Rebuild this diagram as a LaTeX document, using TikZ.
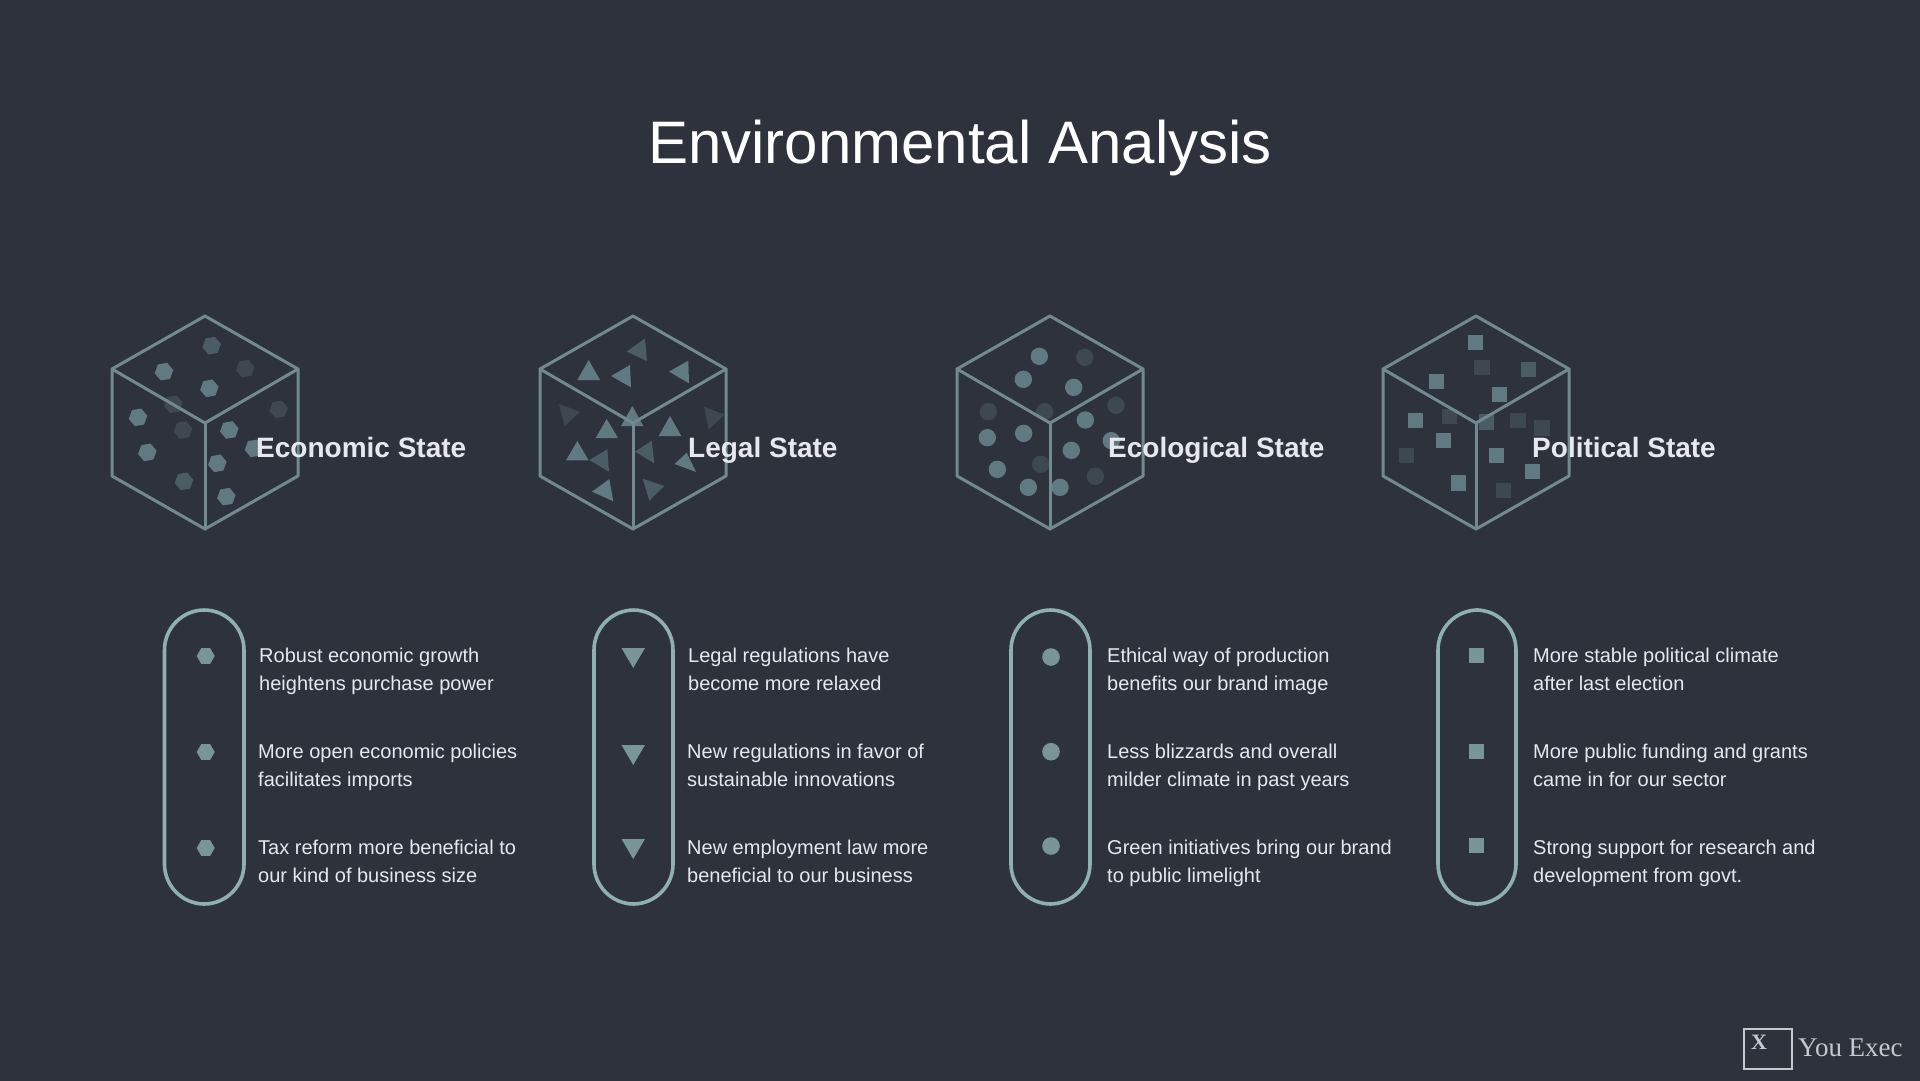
\documentclass[tikz,border=0pt]{standalone}
\usepackage{fontspec}
\setmainfont{Liberation Sans}
\newfontfamily\serifface{Liberation Serif}
\definecolor{bgc}{HTML}{2E323C}
\definecolor{edgec}{HTML}{718A8F}
\definecolor{pillc}{HTML}{8FB0B3}
\definecolor{bulletc}{HTML}{78959A}
\definecolor{brt}{HTML}{5F7A80}
\definecolor{med}{HTML}{4B5D64}
\definecolor{dim}{HTML}{3D4851}
\definecolor{txtc}{HTML}{E6E8EE}
\definecolor{logoc}{HTML}{C5C8CF}
\tikzset{
  x=1pt,y=-1pt,
  cubeedge/.style={draw=edgec,line width=3pt,line join=round,line cap=round},
  pillshape/.style={draw=pillc,line width=3.6pt,rounded corners=40pt},
  headtext/.style={text=txtc,font=\fontsize{28}{33}\selectfont\bfseries,anchor=base west,inner sep=0pt},
  bodytext/.style={text=txtc,font=\fontsize{20}{28}\selectfont,anchor=base west,align=left,inner sep=0pt},
}
\newcommand{\cubeframe}[1]{%
  \draw[cubeedge] (#1,316) -- (#1+93,369) -- (#1+93,476) -- (#1,529) -- (#1-93,476) -- (#1-93,369) -- cycle;
  \draw[cubeedge] (#1-93,369) -- (#1,423) -- (#1+93,369);
  \draw[cubeedge] (#1,423) -- (#1,529);
}
\begin{document}
\begin{tikzpicture}
\useasboundingbox (0,0) rectangle (1920,1080);
\fill[bgc] (-5,-5) rectangle (1925,1085);
\node[text=white,font=\fontsize{60}{70}\selectfont,inner sep=0pt,anchor=base] (title) at (960,163) {Environmental Analysis};

% ---- cube 1: hexagons
\begin{scope}[shift={(90,300)}]
\foreach \a/\b/\c in {365/137/med,222/215/brt,358/265/brt,144/352/brt,172/457/brt,282/544/med,382/490/brt,418/390/brt,409/590/brt,492/445/brt,466/206/dim,250/313/dim,279/390/dim,566/328/dim}{
  \fill[\c] (\a/3,\b/3) +(10:9.4pt) -- +(70:9.4pt) -- +(130:9.4pt) -- +(190:9.4pt) -- +(250:9.4pt) -- +(310:9.4pt) -- cycle;
}
\end{scope}
\cubeframe{205}
% ---- cube 2: triangles
\begin{scope}[shift={(520,300)}]
\foreach \ax/\ay/\bx/\by/\cx/\cy/\c in {
 206/180/172/240/240/240/brt, 330/195/273/228/333/262/brt, 505/182/447/215/507/250/brt,
 375/115/320/155/381/183/med, 117/312/180/335/134/378/dim, 337/318/303/378/370/378/brt,
 260/357/227/414/294/414/brt, 172/423/138/481/206/481/brt, 262/448/208/480/267/515/med,
 268/537/216/575/280/604/brt, 450/348/416/408/484/408/brt, 552/320/614/344/566/388/dim,
 395/422/345/455/403/490/med, 500/458/464/492/528/516/brt, 368/536/433/558/388/602/med}{
  \fill[\c] (\ax/3,\ay/3) -- (\bx/3,\by/3) -- (\cx/3,\cy/3) -- cycle;
}
\end{scope}
\cubeframe{633}
% ---- cube 3: circles
\begin{scope}[shift={(940,300)}]
\foreach \a/\b/\c in {298/169/brt,250/238/brt,401/262/brt,436/360/brt,394/451/brt,514/422/brt,142/413/brt,251/400/brt,172/508/brt,265/562/brt,360/562/brt,434/172/dim,314/335/dim,145/335/dim,528/316/dim,302/493/dim,466/529/dim}{
  \fill[\c] (\a/3,\b/3) circle[radius=8.7pt];
}
\end{scope}
\cubeframe{1050}
% ---- cube 4: squares
\begin{scope}[shift={(1370,300)}]
\foreach \a/\b/\c in {316/127/brt,199/245/brt,388/283/brt,136/362/brt,220/421/brt,379/466/brt,487/514/brt,265/549/brt,475/208/med,336/202/dim,238/349/dim,349/366/med,444/361/dim,516/384/dim,110/466/dim,400/572/dim}{
  \fill[\c] (\a/3-7.7,\b/3-7.7) rectangle ++(15.4,15.4);
}
\end{scope}
\cubeframe{1476}

% ---- headings
\node[headtext] (h1) at (256,457) {Economic State};
\node[headtext] (h2) at (688,457) {Legal State};
\node[headtext] (h3) at (1108,457) {Ecological State};
\node[headtext] (h4) at (1532,457) {Political State};

% ---- pills
\draw[pillshape] (164.5,610) rectangle (244,904);
\draw[pillshape] (594,610) rectangle (673,904);
\draw[pillshape] (1011,610) rectangle (1090,904);
\draw[pillshape] (1438,610) rectangle (1516,904);

% ---- bullets
\foreach \yy in {656,752,848}{
  \fill[bulletc] (205.7,\yy) +(0:9pt) -- +(60:9pt) -- +(120:9pt) -- +(180:9pt) -- +(240:9pt) -- +(300:9pt) -- cycle;
}
\foreach \yy in {648,745,839}{
  \fill[bulletc] (621.5,\yy) -- (645,\yy) -- (633.2,\yy+20) -- cycle;
}
\foreach \yy in {657,751.7,846}{
  \fill[bulletc] (1051,\yy) circle[radius=8.8pt];
}
\foreach \yy in {648,744,838}{
  \fill[bulletc] (1469,\yy) rectangle ++(15.3,15.3);
}

% ---- body text (anchor is the baseline of the last line)
\node[bodytext] (t11) at (259,690.3) {Robust economic growth\\heightens purchase power};
\node[bodytext] (t12) at (258,786.7) {More open economic policies\\facilitates imports};
\node[bodytext] (t13) at (258,882) {Tax reform more beneficial to\\our kind of business size};
\node[bodytext] (t21) at (688,690.3) {Legal regulations have\\become more relaxed};
\node[bodytext] (t22) at (687,786.7) {New regulations in favor of\\sustainable innovations};
\node[bodytext] (t23) at (687,882) {New employment law more\\beneficial to our business};
\node[bodytext] (t31) at (1107,690.3) {Ethical way of production\\benefits our brand image};
\node[bodytext] (t32) at (1107,786.7) {Less blizzards and overall\\milder climate in past years};
\node[bodytext] (t33) at (1107,882) {Green initiatives bring our brand\\to public limelight};
\node[bodytext] (t41) at (1533,690.3) {More stable political climate\\after last election};
\node[bodytext] (t42) at (1533,786.7) {More public funding and grants\\came in for our sector};
\node[bodytext] (t43) at (1533,882) {Strong support for research and\\development from govt.};

% ---- logo
\draw[draw=logoc,line width=1.2pt] (1744,1029) rectangle (1792,1069);
\node[text=logoc,font=\serifface\bfseries\fontsize{22}{26}\selectfont,inner sep=0pt,anchor=base] (logox) at (1759,1049) {X};
\node[text=logoc,font=\serifface\fontsize{27}{30}\selectfont,anchor=base west,inner sep=0pt] (logot) at (1798,1056) {You Exec};
\end{tikzpicture}
\end{document}
